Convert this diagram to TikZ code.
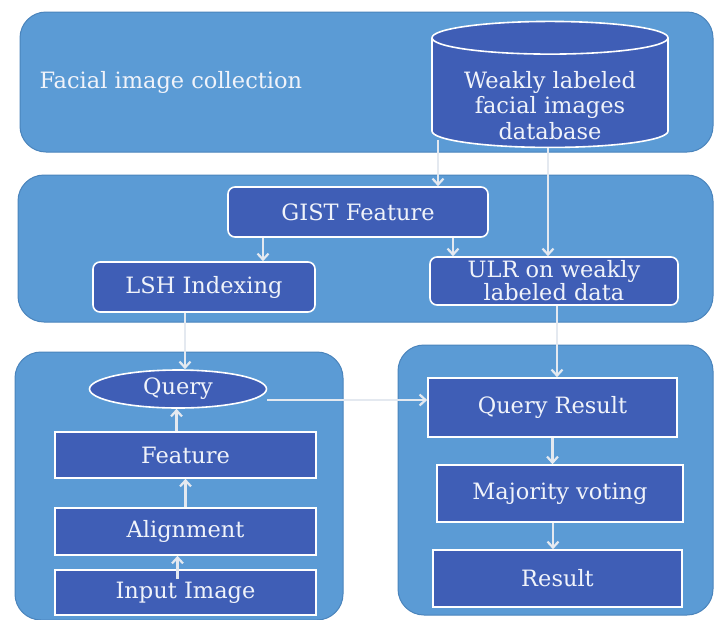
\documentclass[tikz,border=0pt]{standalone}
\usepackage{fontspec}
\setmainfont{DejaVu Serif}
\usetikzlibrary{shapes.geometric,arrows.meta}
\definecolor{panelblue}{HTML}{5B9BD5}
\definecolor{paneledge}{HTML}{4A84BC}
\definecolor{boxblue}{HTML}{3F5EB6}
\definecolor{textwhite}{HTML}{F0F3FA}
\definecolor{arrowgrey}{HTML}{E4E9F0}
\begin{document}
\begin{tikzpicture}[x=1pt,y=-1pt]
        \tikzstyle{every node}=[font=\fontsize{22.5}{26}\selectfont, text=textwhite]
        \tikzstyle{panel}=[draw=paneledge, fill=panelblue, rounded corners=26pt, line width=1pt]
        \tikzstyle{box}=[draw=white, fill=boxblue, line width=1.6pt]
        \tikzstyle{rbox}=[box, rounded corners=7pt]
        \tikzstyle{arrow}=[draw=arrowgrey, line width=2.2pt, -{Straight Barb[length=6pt,width=11pt]}]

        \useasboundingbox (0,0) rectangle (719,619);
        \fill[white] (0,0) rectangle (719,619);

        % groups
        \node (collect) [panel, minimum width=693pt, minimum height=140pt] at (366.5,82) {};
        \node (index)   [panel, minimum width=695pt, minimum height=147pt] at (365.5,248.5) {};
        \node (input)   [panel, minimum width=328pt, minimum height=268pt] at (179,486) {};
        \node (output)  [panel, minimum width=315pt, minimum height=270pt] at (555.5,480) {};

        \node (title) [anchor=west] at (36,82) {Facial image collection};

        \node (db) [box, cylinder, shape border rotate=90, aspect=0.19,
                    minimum width=236pt, minimum height=126pt, align=center,
                    inner sep=0pt, font=\fontsize{22.5}{27}\selectfont] at (550,93)
              {\raisebox{-46pt}[0pt][0pt]{\shortstack{Weakly labeled\\facial images\\database}}};

        \node (gist) [rbox, minimum width=260pt, minimum height=50pt] at (358,212) {GIST Feature};
        \node (lsh)  [rbox, minimum width=222pt, minimum height=50pt] at (204,287) {LSH Indexing};
        \node (ulr)  [rbox, minimum width=248pt, minimum height=48pt, align=center, inner sep=1pt,
                      font=\fontsize{22.5}{22}\selectfont] at (554,281) {ULR on weakly\\labeled data};

        \node (query)   [box, ellipse, minimum width=177pt, minimum height=38pt, inner sep=0pt] at (178,389) {Query};
        \node (feature) [box, minimum width=261pt, minimum height=46pt] at (185.5,455) {Feature};
        \node (align)   [box, minimum width=261pt, minimum height=47pt] at (185.5,531.5) {Alignment};
        \node (image)   [box, minimum width=261pt, minimum height=45pt] at (185.5,592.5) {Input Image};

        \node (qres)   [box, minimum width=249pt, minimum height=59pt] at (552.5,407.5) {Query Result};
        \node (vote)   [box, minimum width=246pt, minimum height=57pt] at (560,493.5) {Majority voting};
        \node (result) [box, minimum width=249pt, minimum height=57pt] at (557.5,578.5) {Result};

        % connectors
        \draw[arrow] ([xshift=-112pt,yshift=8pt]db.south) -- ([xshift=-112pt]db.south |- gist.north);
        \draw[arrow] ([xshift=-2pt]db.south) -- ([xshift=-2pt]db.south |- ulr.north);
        \draw[arrow] ([xshift=-95pt]gist.south) -- ([xshift=-95pt]gist.south |- lsh.north);
        \draw[arrow] ([xshift=95pt]gist.south) -- ([xshift=95pt]gist.south |- ulr.north);
        \draw[arrow] ([xshift=-19pt]lsh.south) -- ([xshift=-19pt]lsh.south |- query.north);
        \draw[arrow] ([xshift=3pt]ulr.south) -- ([xshift=3pt]ulr.south |- qres.north);
        \draw[arrow] ([yshift=-11pt]query.east) -- ([yshift=-11pt]query.east -| qres.west);
        \draw[arrow] ([xshift=-8pt,yshift=-10pt]image.north) -- ([xshift=-8pt]align.south);
        \draw[arrow] (align.north) -- (feature.south);
        \draw[arrow] ([xshift=-9pt]feature.north) -- ([xshift=-9pt]feature.north |- query.south);
        \draw[arrow] (qres.south) -- (qres.south |- vote.north);
        \draw[arrow] ([xshift=-7pt]vote.south) -- ([xshift=-7pt]vote.south |- result.north);
\end{tikzpicture}
\end{document}
